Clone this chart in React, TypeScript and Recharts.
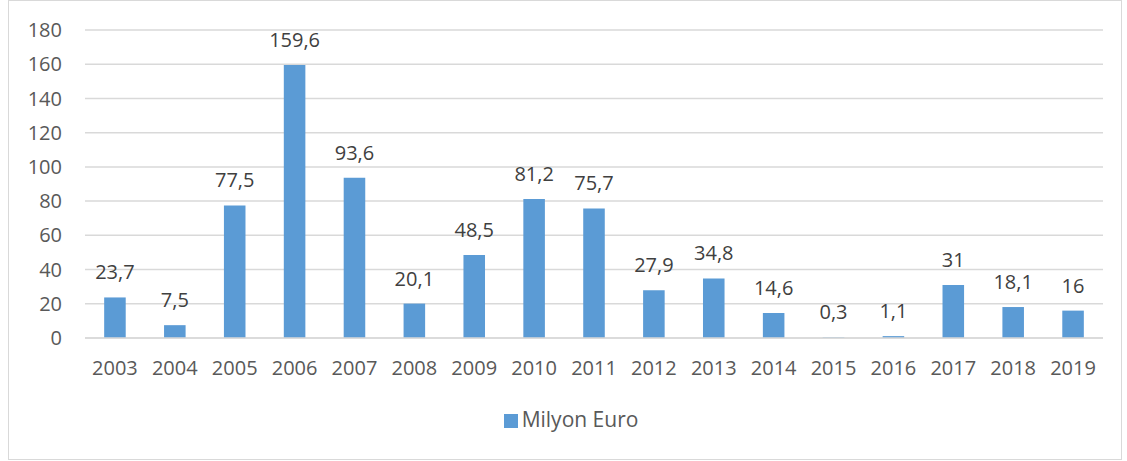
import { BarChart, Bar, XAxis, YAxis, CartesianGrid, Legend, LabelList } from "recharts";

const YEARS = [
  "2003", "2004", "2005", "2006", "2007", "2008", "2009", "2010", "2011",
  "2012", "2013", "2014", "2015", "2016", "2017", "2018", "2019",
];
const VALUES = [
  23.7, 7.5, 77.5, 159.6, 93.6, 20.1, 48.5, 81.2, 75.7,
  27.9, 34.8, 14.6, 0.3, 1.1, 31, 18.1, 16,
];
const Y_TICKS = [0, 20, 40, 60, 80, 100, 120, 140, 160, 180];

const SERIES_NAME = "Milyon Euro";
const BAR_COLOR = "#5B9BD5";
const TEXT = "#595959";
const FONT = "'Open Sans', 'Noto Sans', sans-serif";

const data = YEARS.map((year, i) => ({ year, value: VALUES[i] }));

const fmt = (v: number) => String(v).replace(".", ",");

export default function App() {
  return (
    <div
      style={{
        position: "absolute",
        left: 8,
        top: 0,
        width: 1112,
        height: 458,
        border: "1px solid #d9d9d9",
        background: "#fff",
        fontFamily: FONT,
      }}
    >
      <BarChart
        width={1112}
        height={458}
        data={data}
        margin={{ top: 29, right: 18, left: 0, bottom: 63 }}
        barCategoryGap="68%"
      >
        <CartesianGrid vertical={false} stroke="#d9d9d9" strokeWidth={1.5} />
        <XAxis
          dataKey="year"
          tickLine={false}
          axisLine={{ stroke: "#d9d9d9", strokeWidth: 1.5 }}
          tick={{ fill: TEXT, fontSize: 20, fontFamily: FONT }}
          tickMargin={17}
          interval={0}
        />
        <YAxis
          width={76}
          domain={[0, 180]}
          ticks={Y_TICKS}
          interval={0}
          axisLine={false}
          tickLine={false}
          tick={{ fill: TEXT, fontSize: 20, fontFamily: FONT }}
          tickMargin={17}
        />
        <Legend
          verticalAlign="bottom"
          iconType="square"
          iconSize={14}
          wrapperStyle={{ top: 404, left: 20, fontSize: 21, fontFamily: FONT }}
          formatter={(v: string) => <span style={{ color: TEXT }}>{v}</span>}
        />
        <Bar dataKey="value" name={SERIES_NAME} fill={BAR_COLOR} isAnimationActive={false}>
          <LabelList
            dataKey="value"
            position="top"
            offset={18}
            formatter={(v: number) => fmt(v)}
            style={{ fill: "#404040", fontSize: 20, fontFamily: FONT }}
          />
        </Bar>
      </BarChart>
    </div>
  );
}
